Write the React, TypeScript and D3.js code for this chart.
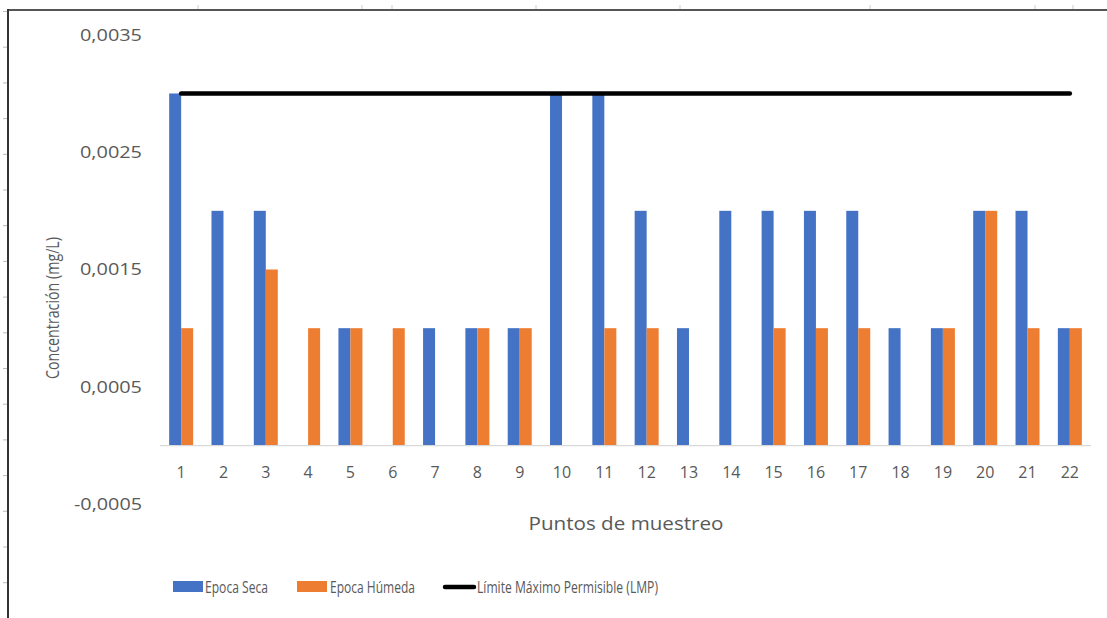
import React from "react";
import * as d3 from "d3";

const categories = ["1","2","3","4","5","6","7","8","9","10","11","12","13","14","15","16","17","18","19","20","21","22"];
const epocaSeca = [0.003,0.002,0.002,0,0.001,0,0.001,0.001,0.001,0.003,0.003,0.002,0.001,0.002,0.002,0.002,0.002,0.001,0.001,0.002,0.002,0.001];
const epocaHumeda = [0.001,0,0.0015,0.001,0.001,0.001,0,0.001,0.001,0,0.001,0.001,0,0,0.001,0.001,0.001,0,0.001,0.002,0.001,0.001];
const lmp = [0.003,0.003,0.003,0.003,0.003,0.003,0.003,0.003,0.003,0.003,0.003,0.003,0.003,0.003,0.003,0.003,0.003,0.003,0.003,0.003,0.003,0.003];
const yTickValues = [0.0035, 0.0025, 0.0015, 0.0005, -0.0005];
const yTickLabels = ["0,0035", "0,0025", "0,0015", "0,0005", "-0,0005"];
const seriesNames = ["Epoca Seca", "Epoca Húmeda", "Límite Máximo Permisible (LMP)"];

const W = 1107, H = 618;
const BLUE = "#4472C4", ORANGE = "#ED7D31";
const FONT = "'Open Sans', 'Noto Sans', sans-serif";

export default function App() {
  const x = d3.scaleBand<string>().domain(categories).range([160, 1091]).paddingInner(0.433).paddingOuter(0.2165);
  const inner = d3.scaleBand<string>().domain(["s", "h"]).range([0, x.bandwidth()]);
  const y = d3.scaleLinear().domain([-0.0005, 0.0035]).range([504.2, 34.8]);
  const zeroY = y(0);
  const line = d3.line<number>().x((_, i) => (x(categories[i]) as number) + x.bandwidth() / 2).y((d) => y(d));

  const leftTicks = d3.range(11.5, 618, 35.7);
  const topTicks = [198, 362, 392, 536, 680, 870, 1035, 1073];

  return (
    <div style={{ position: "fixed", left: 0, top: 0 }}>
      <svg width={W} height={H} style={{ display: "block", background: "#fff" }}>
        <rect x={0} y={0} width={W} height={H} fill="#fff" />
        {/* frame */}
        <line x1={8} x2={W} y1={10} y2={10} stroke="#555" strokeWidth={2} />
        <line x1={8} x2={8} y1={9} y2={H} stroke="#333" strokeWidth={2} />
        {leftTicks.map((t, i) => (
          <line key={"lt" + i} x1={3} x2={7} y1={t} y2={t} stroke="#bbb" strokeWidth={1} />
        ))}
        {topTicks.map((t, i) => (
          <line key={"tt" + i} x1={t} x2={t} y1={5} y2={9} stroke="#ccc" strokeWidth={1} />
        ))}

        {/* y tick labels */}
        {yTickValues.map((v, i) => (
          <text key={"yl" + i} x={142} y={y(v)} dy="0.35em" textAnchor="end" fontFamily={FONT} fontSize={17} fill="#595959"
            textLength={yTickLabels[i].length === 6 ? 62 : 68} lengthAdjust="spacingAndGlyphs">
            {yTickLabels[i]}
          </text>
        ))}

        {/* bars */}
        {categories.map((c, i) => (
          <g key={"b" + c}>
            {epocaSeca[i] > 0 && (
              <rect x={(x(c) as number) + (inner("s") as number)} y={y(epocaSeca[i])} width={inner.bandwidth()} height={zeroY - y(epocaSeca[i])} fill={BLUE} />
            )}
            {epocaHumeda[i] > 0 && (
              <rect x={(x(c) as number) + (inner("h") as number)} y={y(epocaHumeda[i])} width={inner.bandwidth()} height={zeroY - y(epocaHumeda[i])} fill={ORANGE} />
            )}
          </g>
        ))}

        {/* x axis */}
        <line x1={160} x2={1091} y1={zeroY} y2={zeroY} stroke="#D9D9D9" strokeWidth={1.2} />
        {categories.map((c) => (
          <text key={"xl" + c} x={(x(c) as number) + x.bandwidth() / 2} y={472} dy="0.35em" textAnchor="middle" fontFamily={FONT} fontSize={16} fill="#595959">
            {c}
          </text>
        ))}

        {/* LMP line */}
        <path d={line(lmp) as string} fill="none" stroke="#000" strokeWidth={4.5} strokeLinecap="round" />

        {/* axis titles */}
        <text x={626} y={524} dy="0.35em" textAnchor="middle" fontFamily={FONT} fontSize={18.5} fill="#595959" textLength={195} lengthAdjust="spacingAndGlyphs">
          Puntos de muestreo
        </text>
        <text transform="translate(53,308) rotate(-90)" dy="0.35em" textAnchor="middle" fontFamily={FONT} fontSize={18} fill="#595959" textLength={142} lengthAdjust="spacingAndGlyphs">
          Concentración (mg/L)
        </text>

        {/* legend */}
        <rect x={173} y={581} width={30} height={11} fill={BLUE} />
        <text x={205} y={587} dy="0.35em" fontFamily={FONT} fontSize={17} fill="#595959" textLength={63} lengthAdjust="spacingAndGlyphs">{seriesNames[0]}</text>
        <rect x={297} y={581} width={30} height={11} fill={ORANGE} />
        <text x={330} y={587} dy="0.35em" fontFamily={FONT} fontSize={17} fill="#595959" textLength={85} lengthAdjust="spacingAndGlyphs">{seriesNames[1]}</text>
        <line x1={445} x2={474} y1={587} y2={587} stroke="#000" strokeWidth={4.5} strokeLinecap="round" />
        <text x={477} y={587} dy="0.35em" fontFamily={FONT} fontSize={17} fill="#595959" textLength={181} lengthAdjust="spacingAndGlyphs">{seriesNames[2]}</text>
      </svg>
    </div>
  );
}
